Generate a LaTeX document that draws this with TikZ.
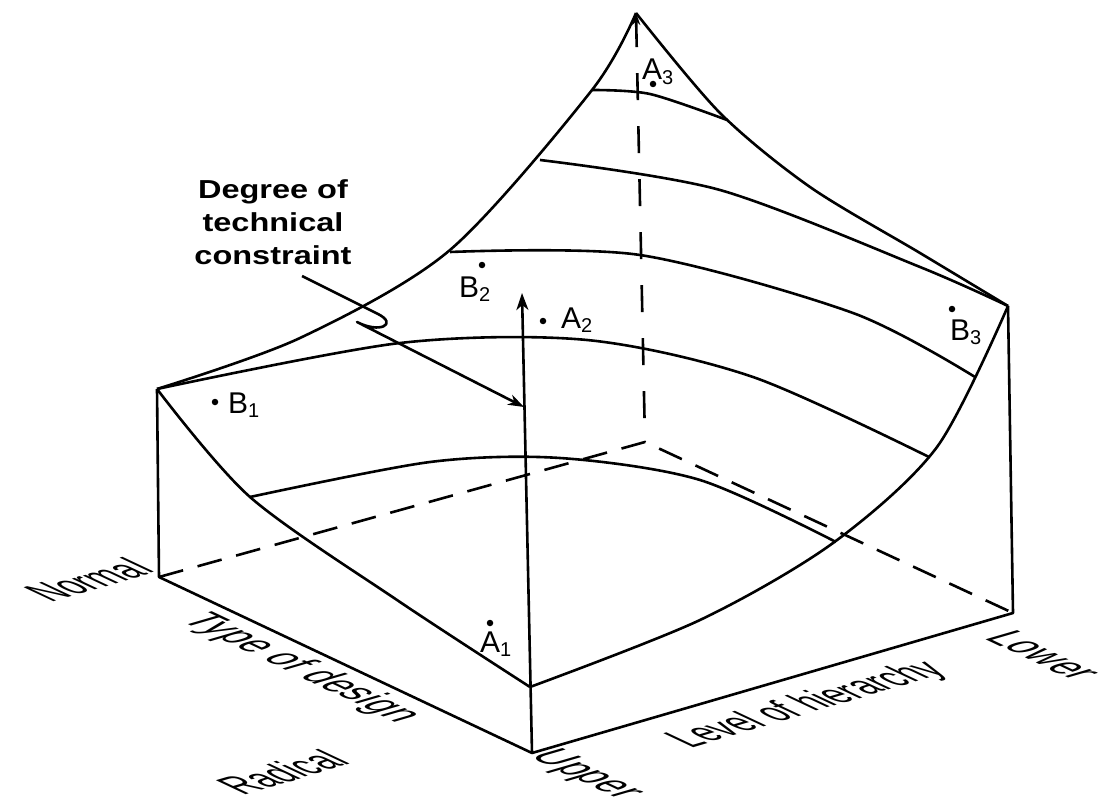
\documentclass[tikz,border=0pt]{standalone}
\usepackage{fontspec}
\setmainfont{Liberation Sans}
\usetikzlibrary{arrows.meta}

\newcommand{\ptname}[2]{#1\raisebox{-0.3ex}{\fontsize{20}{20}\selectfont#2}}

\begin{document}
\begin{tikzpicture}[x=1pt,y=-1pt,
    edge/.style={line width=2.6pt,line join=round},
    dashedge/.style={line width=2.6pt,dash pattern=on 25pt off 15pt},
    vdash/.style={line width=2.6pt,dash pattern=on 27pt off 26pt},
    axisarrow/.style={line width=2.6pt,-{Stealth[length=17pt,width=12pt,inset=5pt]}},
    ptdot/.style={circle,fill,inner sep=0pt,minimum size=6.5pt},
    ptlbl/.style={font=\fontsize{30}{30}\selectfont,inner sep=0pt,anchor=base west},
    hier/.style={font=\fontsize{20}{20}\selectfont,inner sep=0pt,cm={1.63,0.48,-2.17,1.02,(0,0)}},
    dsgn/.style={font=\fontsize{20}{20}\selectfont,inner sep=0pt,cm={1.67,-0.79,2.30,0.67,(0,0)}}
  ]
  \useasboundingbox (0,0) rectangle (1110,810);
  \coordinate (baseL) at (159,577);
  \coordinate (baseF) at (532,753);
  \coordinate (baseR) at (1013,613);
  \coordinate (baseB) at (645,442);
  \coordinate (topL) at (157,389);
  \coordinate (topF) at (530,687);
  \coordinate (topR) at (1008,306);
  \coordinate (peak) at (636,13);
  \coordinate (arrtop) at (522,293);
  \coordinate (arrtip) at (524,407);
  \coordinate (leadS) at (302,276);

  \draw[edge] (topL) -- (baseL) -- (baseF) -- (baseR) -- (topR);
  \draw[axisarrow] (baseF) -- (arrtop);
  \draw[dashedge] (baseL) -- (baseB) -- (baseR);
  \draw[vdash,{Stealth[length=12pt,width=8pt]}-] (peak) -- (baseB);

  \draw[edge] plot[smooth] coordinates {(topL) (300,338) (450,250) (592,90) (peak)};
  \draw[edge] plot[smooth] coordinates {(peak) (720,113) (810,187) (920,253) (topR)};
  \draw[edge] plot[smooth] coordinates {(topL) (250,497) (397,600) (topF)};
  \draw[edge] plot[smooth] coordinates {(topF) (700,620) (833,543) (937,447) (topR)};

  \draw[edge] plot[smooth] coordinates {(250,497) (430,462) (560,458) (700,480) (836,542)};
  \draw[edge] plot[smooth] coordinates {(topL) (400,343) (587,340) (753,377) (929,457)};
  \draw[edge] plot[smooth] coordinates {(450,252) (640,255) (853,313) (975,377)};
  \draw[edge] plot[smooth] coordinates {(540,160) (720,190) (920,267) (topR)};
  \draw[edge] plot[smooth] coordinates {(592,90) (650,94) (727,120)};

  \node[font=\bfseries\fontsize{26}{33}\selectfont,align=center,xscale=1.25] (deg) at (273,222) {Degree of\\technical\\constraint};
  \draw[edge,-{Stealth[length=16pt,width=11pt,inset=5pt]}] (leadS) -- (378,314) .. controls (398,324) and (380,334) .. (357,322) -- (arrtip);

  \node[ptdot] (dA1) at (490,623) {};
  \node[ptlbl] (A1) at (480,652) {\ptname{A}{1}};
  \node[ptdot] (dA2) at (543,321) {};
  \node[ptlbl] (A2) at (561,328) {\ptname{A}{2}};
  \node[ptdot] (dA3) at (653,84) {};
  \node[ptlbl] (A3) at (642,80) {\ptname{A}{3}};
  \node[ptdot] (dB1) at (215,402) {};
  \node[ptlbl] (B1) at (228,413) {\ptname{B}{1}};
  \node[ptdot] (dB2) at (482,265) {};
  \node[ptlbl] (B2) at (459,297) {\ptname{B}{2}};
  \node[ptdot] (dB3) at (952,309) {};
  \node[ptlbl] (B3) at (950,340) {\ptname{B}{3}};

  \node[hier] (hierlbl) at (808,705) {Level of hierarchy};
  \node[hier] (normal) at (88,580) {Normal};
  \node[hier] (radical) at (282,772) {Radical};
  \node[dsgn] (dsgnlbl) at (300,668) {Type of design};
  \node[dsgn] (upper) at (585,775) {Upper};
  \node[dsgn] (lower) at (1044,655) {Lower};
\end{tikzpicture}
\end{document}
